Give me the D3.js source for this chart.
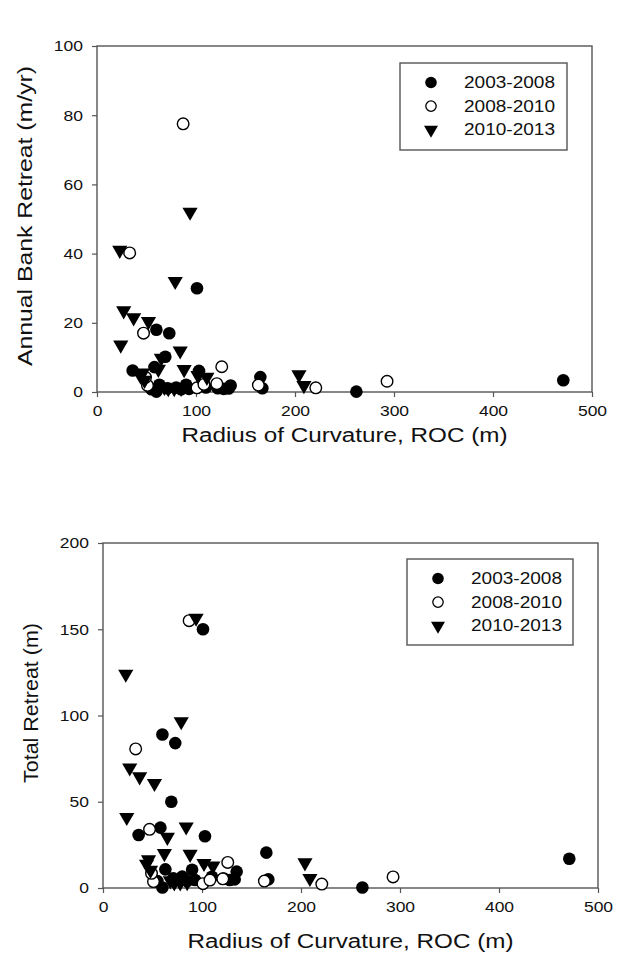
<!DOCTYPE html>
<html>
<head>
<meta charset="utf-8">
<script src="https://cdn.jsdelivr.net/npm/d3@7"></script>
<style>
  html, body { margin: 0; padding: 0; background: #fff; }
  svg { display: block; font-family: "Liberation Sans", Arial, sans-serif; }
</style>
</head>
<body>
<svg id="chart" width="639" height="968"></svg>
<script>
// ---------------- DATA ----------------
const seriesNames = ["2003-2008", "2008-2010", "2010-2013"];
const xTicks = [0, 100, 200, 300, 400, 500];
const yTicksAnnual = [0, 20, 40, 60, 80, 100];
const yTicksTotal = [0, 50, 100, 150, 200];

// 2003-2008 (filled circles)
const roc0308    = [101, 60, 73, 69, 58, 36, 103, 165, 63, 90, 135, 80, 71, 93, 128, 133, 122, 167, 60, 262, 471, 55, 110, 85];
const annual0308 = [30.0, 18.0, 17.0, 10.2, 7.2, 6.2, 6.1, 4.3, 2.1, 2.1, 1.9, 1.3, 1.1, 0.9, 0.9, 1.0, 1.1, 1.1, 0.1, 0.1, 3.4, 0.8, 1.3, 0.8];
const total0308  = [150, 89, 84, 50, 35, 30.7, 30, 20.5, 10.8, 10.6, 9.5, 6.6, 5.6, 4.6, 4.6, 5.0, 5.5, 5.0, 0.3, 0.3, 17, 4.0, 6.5, 4.0];

// 2008-2010 (open circles)
const roc0810    = [87, 33, 47, 126, 163, 221, 293, 101, 121, 108, 51, 49];
const annual0810 = [77.5, 40.2, 17.0, 7.3, 2.0, 1.2, 3.1, 1.2, 2.4, 2.2, 1.9, 4.2];
const total0810  = [155, 80.6, 34, 14.8, 4.0, 2.3, 6.4, 2.5, 5.3, 4.6, 3.7, 8.5];

// 2010-2013 (filled down triangles)
const roc1013    = [23, 94, 79, 27, 37, 52, 24, 84, 65, 88, 62, 46, 44, 102, 111, 204, 209, 72, 78, 85, 48, 68];
const annual1013 = [41, 52, 32, 23.5, 21.5, 20.4, 13.6, 11.9, 9.8, 6.5, 6.6, 5.5, 4.6, 4.8, 4.3, 5.0, 1.9, 1.0, 1.0, 1.1, 3.4, 1.4];
const total1013  = [124, 156.5, 96.5, 69.7, 64.5, 60.7, 41, 35.5, 29.5, 19.6, 20, 16.4, 13.9, 14.3, 12.8, 14.7, 5.6, 3.0, 3.1, 3.2, 10.3, 4.2];

// ---------------- DRAW ----------------
const svg = d3.select("#chart");
const AXIS = "#555";
const STRETCH = 1.13;

const zip = (xs, ys) => xs.map((x, i) => ({ x, y: ys[i] }));

function drawPanel(cfg) {
  const x = d3.scaleLinear().domain([0, 500]).range([cfg.left, cfg.right]);
  const y = d3.scaleLinear().domain([0, cfg.ymax]).range([cfg.bottom, cfg.top]);
  const g = svg.append("g");

  // frame
  g.append("rect")
    .attr("x", cfg.left).attr("y", cfg.top)
    .attr("width", cfg.right - cfg.left).attr("height", cfg.bottom - cfg.top)
    .attr("fill", "none").attr("stroke", AXIS).attr("stroke-width", 1.4);

  // x axis
  const xa = g.append("g").attr("transform", `translate(0,${cfg.bottom})`)
    .call(d3.axisBottom(x).tickValues(xTicks).tickSize(5).tickPadding(8).tickFormat(d3.format("d")));
  xa.select(".domain").remove();
  xa.selectAll("line").attr("stroke", AXIS).attr("stroke-width", 1.2);
  xa.selectAll("text").attr("fill", "#111").attr("font-size", 15.5)
    .attr("font-family", "Liberation Sans, Arial, sans-serif")
    .attr("transform", `scale(${STRETCH},1)`);

  // y axis
  const ya = g.append("g").attr("transform", `translate(${cfg.left},0)`)
    .call(d3.axisLeft(y).tickValues(cfg.yTicks).tickSize(5).tickPadding(9).tickFormat(d3.format("d")));
  ya.select(".domain").remove();
  ya.selectAll("line").attr("stroke", AXIS).attr("stroke-width", 1.2);
  ya.selectAll("text").attr("fill", "#111").attr("font-size", 15.5)
    .attr("font-family", "Liberation Sans, Arial, sans-serif")
    .attr("x", -14 / STRETCH)
    .attr("transform", `scale(${STRETCH},1)`);

  // titles
  g.append("text")
    .attr("x", (cfg.left + cfg.right) / 2).attr("y", cfg.xTitleY)
    .attr("text-anchor", "middle").attr("font-size", 19.5).attr("fill", "#111")
    .attr("textLength", 326).attr("lengthAdjust", "spacingAndGlyphs")
    .text("Radius of Curvature, ROC (m)");
  g.append("text")
    .attr("transform", `translate(${cfg.yTitleX},${cfg.yTitleCY}) rotate(-90)`)
    .attr("text-anchor", "middle").attr("font-size", 20.5).attr("fill", "#111")
    .attr("textLength", cfg.yTitleLen).attr("lengthAdjust", "spacingAndGlyphs")
    .text(cfg.yTitle);

  // marks
  const d1 = zip(roc0308, cfg.v1), d2 = zip(roc0810, cfg.v2), d3_ = zip(roc1013, cfg.v3);
  const tri = d3.symbol().type(d3.symbolTriangle).size(100);

  g.append("g").selectAll("circle").data(d1).join("circle")
    .attr("cx", d => x(d.x)).attr("cy", d => y(d.y)).attr("r", 6.3).attr("fill", "#000");
  g.append("g").selectAll("circle").data(d2).join("circle")
    .attr("cx", d => x(d.x)).attr("cy", d => y(d.y)).attr("r", 5.8)
    .attr("fill", "#fff").attr("stroke", "#000").attr("stroke-width", 1.4);
  g.append("g").selectAll("path").data(d3_).join("path")
    .attr("d", tri)
    .attr("transform", d => `translate(${x(d.x)},${y(d.y)}) rotate(180)`)
    .attr("fill", "#000");

  // legend
  const L = cfg.legend;
  const lg = g.append("g");
  lg.append("rect").attr("x", L.x).attr("y", L.y).attr("width", L.w).attr("height", L.h)
    .attr("fill", "#fff").attr("stroke", AXIS).attr("stroke-width", 1.4);
  seriesNames.forEach((name, i) => {
    const cy = L.y + 19.5 + i * 23.6;
    const sx = L.x + 31;
    if (i === 0) lg.append("circle").attr("cx", sx).attr("cy", cy).attr("r", 5.8).attr("fill", "#000");
    if (i === 1) lg.append("circle").attr("cx", sx).attr("cy", cy).attr("r", 5.2)
      .attr("fill", "#fff").attr("stroke", "#000").attr("stroke-width", 1.3);
    if (i === 2) lg.append("path").attr("d", d3.symbol().type(d3.symbolTriangle).size(85)())
      .attr("transform", `translate(${sx},${cy}) rotate(180)`).attr("fill", "#000");
    lg.append("text").attr("x", L.x + 64).attr("y", cy + 5.6)
      .attr("font-size", 16).attr("fill", "#111")
      .attr("textLength", 91).attr("lengthAdjust", "spacingAndGlyphs")
      .text(name);
  });
}

drawPanel({
  left: 97, right: 592, top: 46, bottom: 392, ymax: 100, yTicks: yTicksAnnual,
  xTitleY: 442, yTitleX: 32, yTitleCY: 216, yTitleLen: 300,
  yTitle: "Annual Bank Retreat (m/yr)",
  v1: annual0308, v2: annual0810, v3: annual1013,
  legend: { x: 400, y: 63, w: 167, h: 87 }
});

drawPanel({
  left: 103, right: 598, top: 543, bottom: 888, ymax: 200, yTicks: yTicksTotal,
  xTitleY: 948, yTitleX: 38, yTitleCY: 703, yTitleLen: 160,
  yTitle: "Total Retreat (m)",
  v1: total0308, v2: total0810, v3: total1013,
  legend: { x: 407, y: 559, w: 166, h: 86 }
});
</script>
</body>
</html>
